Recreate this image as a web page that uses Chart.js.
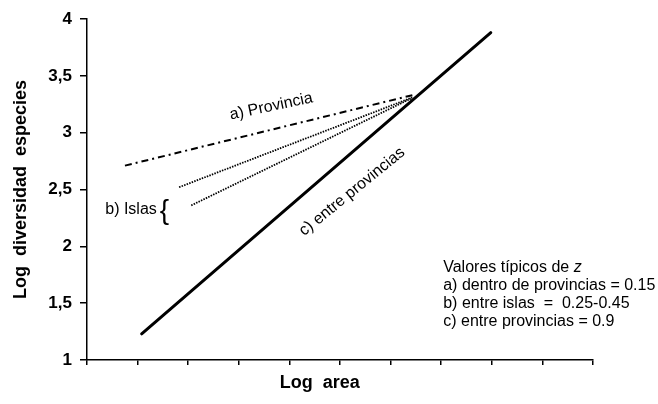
<!DOCTYPE html>
<html>
<head>
<meta charset="utf-8">
<script src="https://cdn.jsdelivr.net/npm/chart.js@4.4.0/dist/chart.umd.min.js"></script>
<style>
  html, body { margin: 0; padding: 0; background: #fff; }
  #wrap { width: 658px; height: 404px; }
</style>
</head>
<body>
<div id="wrap"><canvas id="mycanvas"></canvas></div>
<script>
// valores (log area, log diversidad)
var solidX = [1.08, 7.98];
var solidY = [1.23, 3.88];
var provX = [0.75, 6.43];
var provY = [2.71, 3.33];
var islaAX = [1.82, 6.43];
var islaAY = [2.52, 3.31];
var islaBX = [2.06, 6.40];
var islaBY = [2.36, 3.30];

var yTicks = [1, 1.5, 2, 2.5, 3, 3.5, 4];
var yTickLabels = ["1", "1,5", "2", "2,5", "3", "3,5", "4"];

var leyenda = [
	"a) dentro de provincias = 0.15",
	"b) entre islas  =  0.25-0.45",
	"c) entre provincias = 0.9"
];

function puntos(xs, ys) {
	var out = [];
	for (var i = 0; i < xs.length; i++) {
		out.push({x: xs[i], y: ys[i]});
	}
	return out;
}

var FONT = "'Liberation Sans', Arial, Helvetica, sans-serif";

// textos encima del grafico
var textos = {
	id: 'textos',
	afterDatasetsDraw: function(chart) {
		var ctx = chart.ctx;
		var sx = chart.scales.x;
		var sy = chart.scales.y;
		ctx.save();
		ctx.fillStyle = '#000';
		ctx.textBaseline = 'middle';

		// a) Provincia
		ctx.save();
		ctx.translate(sx.getPixelForValue(3.64), sy.getPixelForValue(3.23));
		ctx.rotate(-12 * Math.PI / 180);
		ctx.font = '16px ' + FONT;
		ctx.textAlign = 'center';
		ctx.fillText('a) Provincia', 0, 0);
		ctx.restore();

		// c) entre provincias
		ctx.save();
		ctx.translate(sx.getPixelForValue(5.24), sy.getPixelForValue(2.48));
		ctx.rotate(-39 * Math.PI / 180);
		ctx.font = '16px ' + FONT;
		ctx.textAlign = 'center';
		ctx.fillText('c) entre provincias', 0, 0);
		ctx.restore();

		// b) Islas {
		ctx.font = '16px ' + FONT;
		ctx.textAlign = 'right';
		ctx.fillText('b) Islas', sx.getPixelForValue(1.38), sy.getPixelForValue(2.32));
		ctx.font = '28px ' + FONT;
		ctx.textAlign = 'left';
		ctx.fillText('{', sx.getPixelForValue(1.44), sy.getPixelForValue(2.32) + 1);

		// leyenda de valores de z
		var lx = sx.getPixelForValue(7.04);
		var ly = sy.getPixelForValue(1.81);
		ctx.font = '16px ' + FONT;
		ctx.textAlign = 'left';
		var t0 = 'Valores t\u00edpicos de ';
		ctx.fillText(t0, lx, ly);
		var w0 = ctx.measureText(t0).width;
		ctx.font = 'italic 16px ' + FONT;
		ctx.fillText('z', lx + w0, ly);
		ctx.font = '16px ' + FONT;
		for (var i = 0; i < leyenda.length; i++) {
			ctx.fillText(leyenda[i], lx, ly + 18 * (i + 1));
		}

		// titulo eje x
		ctx.font = 'bold 18px ' + FONT;
		ctx.textAlign = 'center';
		ctx.fillText('Log  area', sx.getPixelForValue(4.6), chart.chartArea.bottom + 23);
		ctx.restore();
	}
};

var chartdata = {
	datasets: [
		{
			label: 'c) entre provincias',
			data: puntos(solidX, solidY),
			borderColor: '#000',
			borderWidth: 3,
			borderCapStyle: 'round',
			pointRadius: 0
		},
		{
			label: 'a) Provincia',
			data: puntos(provX, provY),
			borderColor: '#000',
			borderWidth: 2,
			borderDash: [7, 4, 2, 4],
			pointRadius: 0
		},
		{
			label: 'b) Islas 1',
			data: puntos(islaAX, islaAY),
			borderColor: '#000',
			borderWidth: 1.8,
			borderDash: [1.5, 1.2],
			pointRadius: 0
		},
		{
			label: 'b) Islas 2',
			data: puntos(islaBX, islaBY),
			borderColor: '#000',
			borderWidth: 1.8,
			borderDash: [1.5, 1.2],
			pointRadius: 0
		}
	]
};

var ctx = document.getElementById('mycanvas');

var grafico = new Chart(ctx, {
	type: 'line',
	data: chartdata,
	plugins: [textos],
	options: {
		responsive: true,
		maintainAspectRatio: false,
		animation: false,
		layout: { padding: { top: 19, right: 65, left: 0, bottom: 0 } },
		plugins: {
			legend: { display: false },
			tooltip: { enabled: false }
		},
		scales: {
			x: {
				type: 'linear',
				min: 0,
				max: 10,
				ticks: { display: false, stepSize: 1 },
				grid: { drawOnChartArea: false, drawTicks: true, tickLength: 5, color: '#000', lineWidth: 1.5 },
				border: { display: true, color: '#000', width: 1.5 },
				afterFit: function(scale) { scale.height = 44; }
			},
			y: {
				type: 'linear',
				min: 1,
				max: 4,
				afterBuildTicks: function(scale) {
					scale.ticks = yTicks.map(function(v) { return {value: v}; });
				},
				ticks: {
					color: '#000',
					padding: 8,
					font: { family: FONT, size: 17, weight: 'bold' },
					callback: function(value) {
						var i = yTicks.indexOf(value);
						return i >= 0 ? yTickLabels[i] : '';
					}
				},
				grid: { drawOnChartArea: false, drawTicks: true, tickLength: 7, color: '#000', lineWidth: 1.5 },
				border: { display: true, color: '#000', width: 1.5 },
				title: {
					display: true,
					text: 'Log  diversidad  especies',
					color: '#000',
					padding: { top: 10, bottom: 0 },
					font: { family: FONT, size: 18, weight: 'bold' }
				},
				afterFit: function(scale) { scale.width = 87; }
			}
		}
	}
});
</script>
</body>
</html>
